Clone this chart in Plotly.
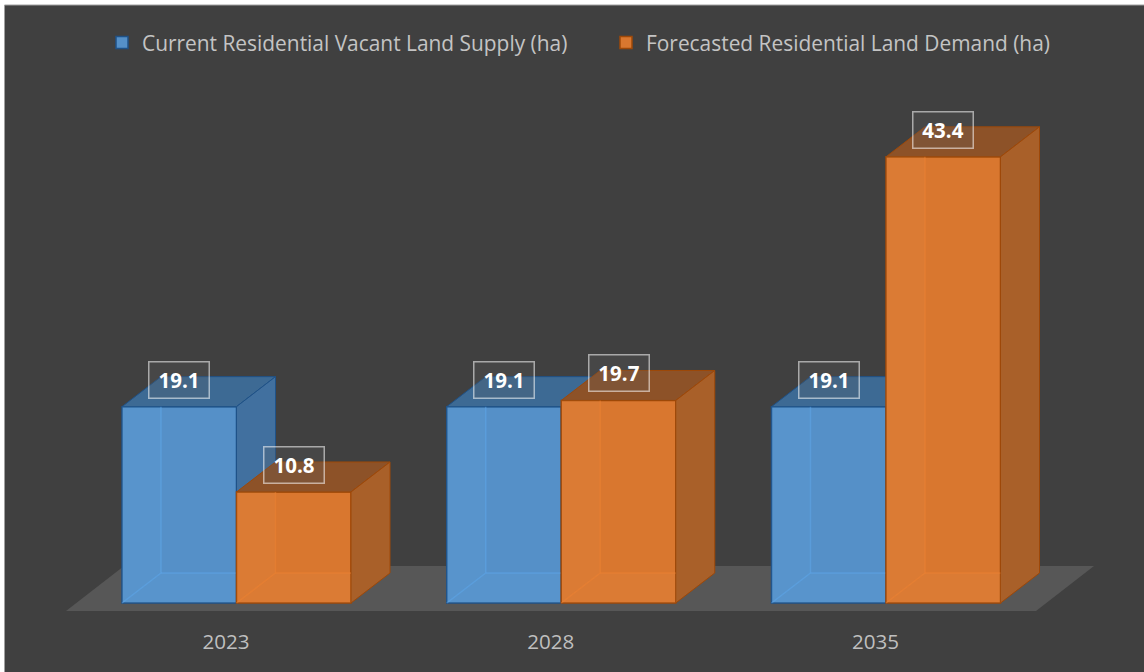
import plotly.graph_objects as go

years = ["2023", "2028", "2035"]
supply = [19.1, 19.1, 19.1]
demand = [10.8, 19.7, 43.4]
supply_name = "Current Residential Vacant Land Supply (ha)"
demand_name = "Forecasted Residential Land Demand (ha)"

W, H = 1144, 672
BOTTOM = 620
PX_X = 324.75      # pixels per group
PX_Y = 10.28       # pixels per value unit
X0_PX, Y0_PX = 236.5, 603
xr = [(0 - X0_PX) / PX_X, (W - X0_PX) / PX_X]
yr = [(Y0_PX - BOTTOM) / PX_Y, Y0_PX / PX_Y]
BW = 114.5 / PX_X
DX = 39 / PX_X
DY = 30 / PX_Y
FONT = "Open Sans"


def px(x):
    return (x - X0_PX) / PX_X


def py(y):
    return (Y0_PX - y) / PX_Y


fig = go.Figure()


def poly(x, y, fill, line, ax):
    fig.add_trace(go.Scatter(x=x + x[:1], y=y + y[:1], mode="lines", fill="toself", fillcolor=fill,
                             line=dict(color=line, width=1), showlegend=False, hoverinfo="skip",
                             xaxis=ax[0], yaxis=ax[1]))


def stroke(x, y, color, ax):
    fig.add_trace(go.Scatter(x=x, y=y, mode="lines", line=dict(color=color, width=1.5),
                             showlegend=False, hoverinfo="skip", xaxis=ax[0], yaxis=ax[1]))


def series(values, name, offset, style, ax):
    xs = [i + offset for i in range(len(values))]
    fig.add_trace(go.Bar(x=xs, y=values, width=BW, name=name, xaxis=ax[0], yaxis=ax[1],
                         marker=dict(color=style["front"], line=dict(color=style["edge"], width=1.5)),
                         hoverinfo="skip"))
    for cx, v in zip(xs, values):
        L, R = cx - BW / 2, cx + BW / 2
        poly([L + DX, R + DX, R, L], [v + DY, v + DY, v, v], style["top"], style["edge"], ax)
        poly([R, R + DX, R + DX, R], [0, DY, v + DY, v], style["side"], style["edge"], ax)
        poly([L, L + DX, L + DX, L], [0, DY, v, v], style["wash"], "rgba(0,0,0,0)", ax)
        poly([L, R, R, L + DX], [0, 0, DY, DY], style["wash"], "rgba(0,0,0,0)", ax)
        stroke([L, L + DX, L + DX], [0, DY, v], style["inner"], ax)
        stroke([L + DX, R], [DY, DY], style["inner"], ax)


BLUE = dict(front="#5590c8", edge="#1f5288", top="#3d6a94", side="#41709f",
            wash="rgba(120,185,245,0.10)", inner="rgba(95,170,240,0.45)")
ORANGE = dict(front="#d9772f", edge="#9e4808", top="#8d5228", side="#a96029",
              wash="rgba(250,165,95,0.10)", inner="rgba(240,130,50,0.45)")

series(supply, supply_name, -BW / 2, BLUE, ("x", "y"))
series(demand, demand_name, BW / 2, ORANGE, ("x2", "y2"))

annotations = []
for off, values in ((-BW / 2, supply), (BW / 2, demand)):
    for i, v in enumerate(values):
        annotations.append(dict(x=i + off, y=v, xref="x", yref="y", yshift=27, text=f"<b>{v:.1f}</b>",
                                showarrow=False, font=dict(family=FONT, size=20.5, color="white"),
                                width=57, height=33, borderpad=1, borderwidth=1.5,
                                bordercolor="rgba(255,255,255,0.55)", bgcolor="rgba(90,90,90,0.25)"))

fig.update_layout(
    width=W, height=H, margin=dict(l=0, r=0, t=0, b=H - BOTTOM, autoexpand=False),
    paper_bgcolor="white", plot_bgcolor="rgba(0,0,0,0)", barmode="overlay",
    font=dict(family=FONT, size=20.9, color="#c4c4c4"), showlegend=True,
    legend=dict(orientation="h", x=102 / W, y=1 - 43 / BOTTOM, xanchor="left", yanchor="middle",
                entrywidth=459, entrywidthmode="pixels", bgcolor="rgba(0,0,0,0)",
                font=dict(family=FONT, size=20.9, color="#c4c4c4")),
    xaxis=dict(range=xr, tickmode="array", tickvals=[i - 10.5 / PX_X for i in range(len(years))], ticktext=years,
               showgrid=False, zeroline=False, showline=False, ticks="outside", ticklen=3,
               tickcolor="rgba(0,0,0,0)", tickfont=dict(family=FONT, size=20.6, color="#bfbfbf")),
    yaxis=dict(range=yr, visible=False, showgrid=False, zeroline=False),
    xaxis2=dict(range=xr, overlaying="x", visible=False, showgrid=False, zeroline=False),
    yaxis2=dict(range=yr, overlaying="y", visible=False, showgrid=False, zeroline=False),
    annotations=annotations,
    shapes=[
        dict(type="rect", xref="paper", yref="paper", x0=4.5 / W, x1=1.02, y0=(BOTTOM - H - 10) / BOTTOM, y1=1 - 5 / BOTTOM,
             fillcolor="#404040", line=dict(color="#a0a0a0", width=1), layer="below"),
        dict(type="path", xref="x", yref="y", layer="below", fillcolor="#575757", line=dict(width=0),
             path=f"M{px(66)},{py(611)} L{px(1036)},{py(611)} L{px(1094)},{py(566)} L{px(124)},{py(566)} Z"),
    ],
)

fig.write_html("out.html", config={"displayModeBar": False}, post_script="document.body.style.margin='0';")
